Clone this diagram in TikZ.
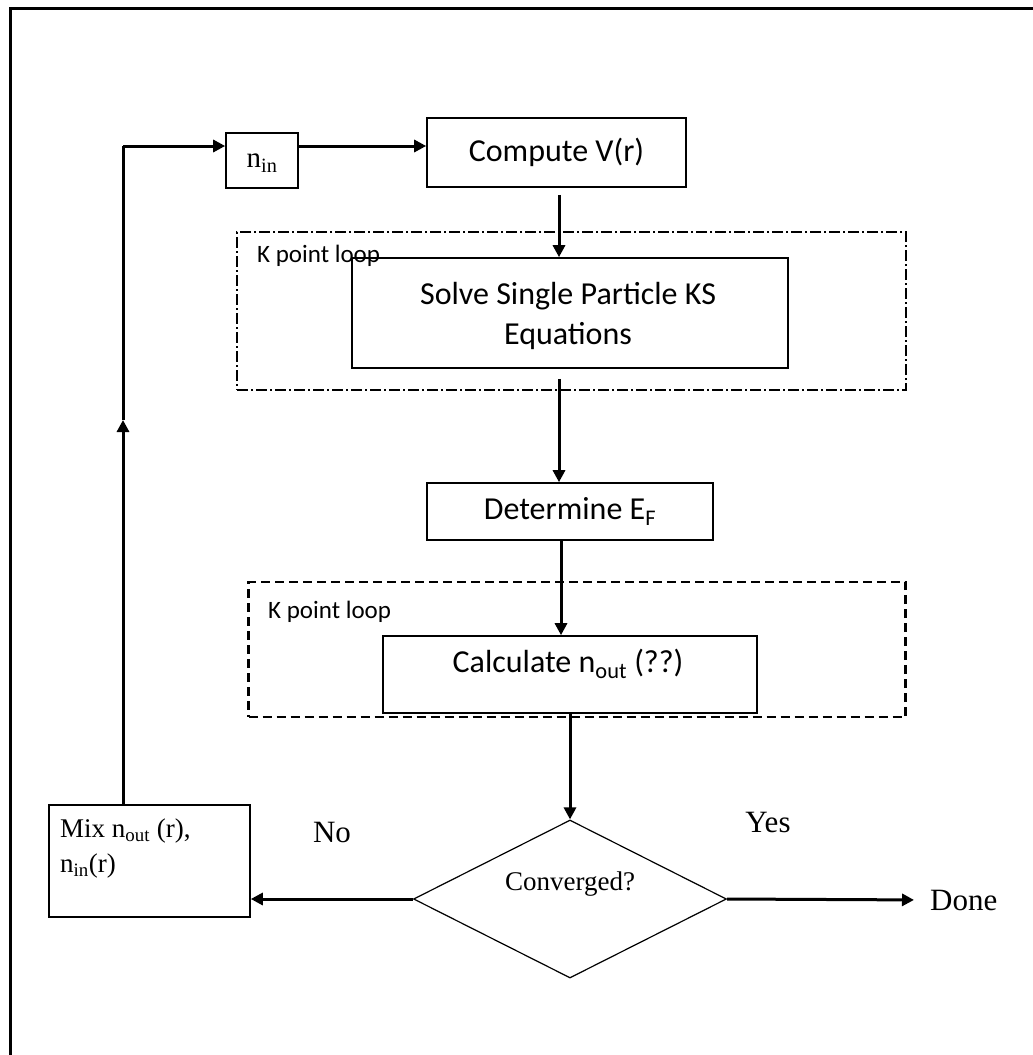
\documentclass[tikz,border=0pt]{standalone}
\usepackage{fontspec}
\setmainfont{Liberation Serif}
\newfontfamily\calib{Carlito}
\usetikzlibrary{arrows.meta,shapes.geometric}
\begin{document}
\begin{tikzpicture}[x=1pt,y=-1pt,
  box/.style={draw,line width=1.6pt,inner sep=0pt},
  cfont/.style={font=\calib\fontsize{32}{40}\selectfont},
  tfont/.style={font=\fontsize{31}{36}\selectfont},
  lblfont/.style={font=\calib\fontsize{25}{28}\selectfont},
  conn/.style={line width=3pt,-{Triangle[length=12pt,width=12pt]}},
  plain/.style={line width=3pt},
  dashdotbox/.style={draw,line width=2.2pt,dash pattern=on 11pt off 3pt on 2pt off 3pt,inner sep=0pt},
  dashbox/.style={draw,line width=2.2pt,dash pattern=on 9pt off 5pt,inner sep=0pt}]
\useasboundingbox (0,0) rectangle (1033,1055);
% outer frame (left and top)
\draw[line width=3pt] (10,1055) -- (10,8) -- (1033,8);

% group boxes
\node[dashdotbox,minimum width=669pt,minimum height=158pt] (kloopA) at (571.5,311) {};
\node[dashbox,minimum width=657pt,minimum height=135pt] (kloopB) at (577,649.5) {};
\node[lblfont,anchor=west,inner sep=0pt] (kloopBlbl) at (268,612) {K point loop};

% process boxes
\node[box,minimum width=72pt,minimum height=55pt] (nin) at (262,160.5) {};
\node[font=\fontsize{29}{32}\selectfont,inner sep=0pt] (nintext) at (262,163) {n\textsubscript{in}};
\node[box,cfont,minimum width=259pt,minimum height=69pt] (comp) at (556.5,152.5) {Compute V(r)};
\node[box,minimum width=436pt,minimum height=110pt] (solve) at (570,313) {};
\node[lblfont,anchor=west,inner sep=0pt] (kloopAlbl) at (257,256) {K point loop};
\node[cfont,align=center,inner sep=0pt] (solvetext) at (568,316) {Solve Single Particle KS\\Equations};
\node[box,cfont,minimum width=286pt,minimum height=57pt] (det) at (570,511.5) {Determine E\textsubscript{F}};
\node[box,minimum width=374pt,minimum height=77pt] (calc) at (570,674.5) {};
\node[cfont,inner sep=0pt] (calctext) at (568,664) {Calculate n\textsubscript{out} (??)};
\node[draw,line width=1.2pt,shape=diamond,inner sep=0pt,minimum width=313pt,minimum height=158pt] (conv) at (570,899) {};
\node[font=\fontsize{27}{30}\selectfont,inner sep=0pt] (convtext) at (570,884) {Converged?};
\node[box,minimum width=201pt,minimum height=112pt] (mix) at (149.5,861) {};
\node[font=\fontsize{27}{35}\selectfont,align=left,anchor=north west,inner sep=0pt] (mixtext) at (60,819) {Mix n\textsubscript{out} (r),\\n\textsubscript{in}(r)};
\node[tfont,anchor=west,inner sep=0pt] (done) at (930,900) {Done};
\node[tfont,inner sep=0pt] (yes) at (768,822) {Yes};
\node[tfont,inner sep=0pt] (no) at (332,832) {No};

% connector coordinates
\coordinate (up) at (123,420);
\coordinate (corner) at (123,146);
\coordinate (cA) at (559,0);
\coordinate (cB) at (561,0);

% connectors
\draw[conn] (up |- mix.north) -- (up);
\draw[plain] (up) -- (corner);
\draw[conn] (corner) -- (corner -| nin.west);
\draw[conn] (corner -| nin.east) -- (corner -| comp.west);
\draw[conn,shorten <=7pt] (comp.south -| cA) -- (solve.north -| cA);
\draw[conn,shorten <=10pt] (solve.south -| cA) -- (det.north -| cA);
\draw[conn] (det.south -| cB) -- (calc.north -| cB);
\draw[conn] (calc.south) -- (conv.north);
\draw[conn] (conv.west) -- (conv.west -| mix.east);
\draw[conn,shorten >=16pt] (conv.east) -- (done.west);
\end{tikzpicture}
\end{document}
